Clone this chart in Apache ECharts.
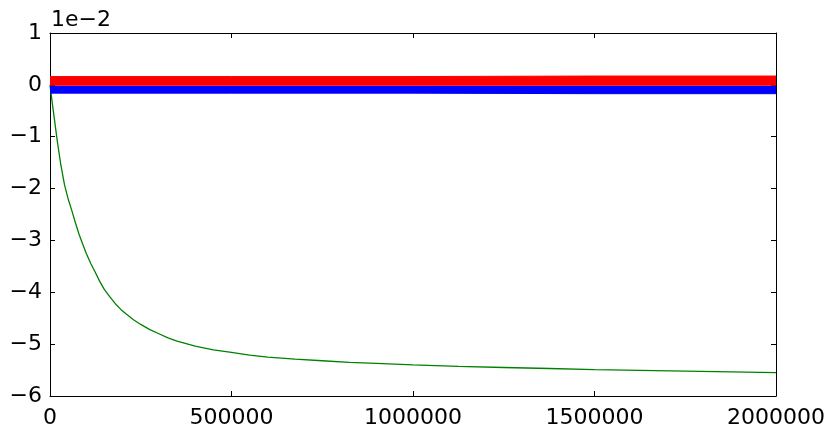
<!DOCTYPE html>
<html>
<head>
<meta charset="utf-8">
<script src="https://cdn.jsdelivr.net/npm/echarts@6/dist/echarts.min.js"></script>
<style>
html,body{margin:0;padding:0;background:#fff;}
#chart{width:830px;height:433px;}
</style>
</head>
<body>
<div id="chart"></div>
<script>
// Values in units of 1e-2
const xTicks = [0, 500000, 1000000, 1500000, 2000000];
const yTicks = [-6, -5, -4, -3, -2, -1, 0, 1];

// Green curve samples
const greenX = [0, 5000, 10000, 20000, 30000, 40000, 50000, 60000, 70000, 80000, 90000, 100000, 112000, 125000, 137000, 150000, 165000, 180000, 195000, 210000, 230000, 250000, 275000, 300000, 325000, 350000, 375000, 400000, 450000, 500000, 550000, 600000, 675000, 750000, 825000, 900000, 1000000, 1125000, 1250000, 1375000, 1500000, 1750000, 2000000];
const greenY = [0, -0.28, -0.55, -1.08, -1.55, -1.93, -2.20, -2.42, -2.66, -2.88, -3.07, -3.25, -3.44, -3.62, -3.79, -3.95, -4.09, -4.22, -4.33, -4.42, -4.53, -4.62, -4.72, -4.80, -4.88, -4.94, -4.99, -5.04, -5.11, -5.16, -5.21, -5.25, -5.29, -5.32, -5.35, -5.37, -5.40, -5.43, -5.45, -5.47, -5.49, -5.52, -5.55];

// Red band (upper edge, filled down to baseline) and blue band (lower edge, filled up to baseline)
const bandX = [0, 500000, 1000000, 1500000, 2000000];
const redHigh = [0.16, 0.16, 0.16, 0.17, 0.17];
const blueLow = [-0.16, -0.16, -0.16, -0.17, -0.17];
const bandBase = -0.015;

const zip = (xs, ys) => xs.map((x, i) => [x, ys[i]]);
const fmtY = v => (v < 0 ? '\u2212' + (-v) : String(v));

const chart = echarts.init(document.getElementById('chart'), null, {renderer: 'canvas'});
const font = 'DejaVu Sans';
const axisLine = {show: true, onZero: false, lineStyle: {color: '#000', width: 1}};
const tickIn = {show: true, inside: true, length: 5, lineStyle: {color: '#000', width: 1}};

chart.setOption({
  animation: false,
  backgroundColor: '#fff',
  grid: {left: 50, right: 54, top: 33, bottom: 37, containLabel: false},
  graphic: [{
    type: 'text', left: 51, top: 9,
    style: {text: '1e\u22122', font: '22px "DejaVu Sans"', fill: '#000'}
  }],
  xAxis: [{
    type: 'value', min: 0, max: 2000000, interval: 500000,
    axisLine: axisLine, axisTick: tickIn, splitLine: {show: false},
    axisLabel: {margin: 11, color: '#000', fontFamily: font, fontSize: 22, formatter: v => String(v)}
  }, {
    type: 'value', position: 'top', min: 0, max: 2000000, interval: 500000,
    axisLine: axisLine, axisTick: tickIn, splitLine: {show: false}, axisLabel: {show: false}
  }],
  yAxis: [{
    type: 'value', min: -6, max: 1, interval: 1,
    axisLine: axisLine, axisTick: tickIn, splitLine: {show: false},
    axisLabel: {margin: 8, color: '#000', fontFamily: font, fontSize: 22, formatter: fmtY}
  }, {
    type: 'value', position: 'right', min: -6, max: 1, interval: 1,
    axisLine: axisLine, axisTick: tickIn, splitLine: {show: false}, axisLabel: {show: false}
  }],
  series: [{
    type: 'line', name: 'green', data: zip(greenX, greenY), showSymbol: false, smooth: false,
    lineStyle: {color: '#008000', width: 1.3}, z: 2
  }, {
    type: 'line', name: 'blue', data: zip(bandX, blueLow), showSymbol: false,
    lineStyle: {color: '#0000ff', width: 1}, areaStyle: {color: '#0000ff', opacity: 1, origin: bandBase}, z: 3
  }, {
    type: 'line', name: 'red', data: zip(bandX, redHigh), showSymbol: false,
    lineStyle: {color: '#ff0000', width: 1}, areaStyle: {color: '#ff0000', opacity: 1, origin: bandBase}, z: 4
  }]
});
</script>
</body>
</html>
